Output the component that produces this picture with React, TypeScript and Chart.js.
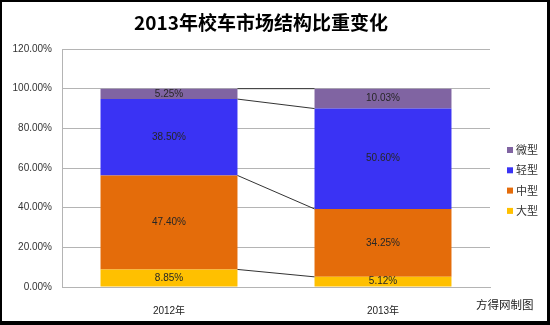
import { useEffect, useRef } from "react";
import { Chart, registerables } from "chart.js";

Chart.register(...registerables);

const titleText = "2013年校车市场结构比重变化";
const categories = ["2012年", "2013年"];
const seriesNames = ["大型", "中型", "轻型", "微型"];
const largeValues = [8.85, 5.12];
const mediumValues = [47.4, 34.25];
const lightValues = [38.5, 50.6];
const miniValues = [5.25, 10.03];
const seriesColors = ["#FFC000", "#E46C0A", "#3A33F4", "#8064A2"];
const yMin = 0;
const yMax = 120;
const yStep = 20;
const sourceNote = "方得网制图";

const FONT = "'Liberation Sans', 'Noto Sans CJK SC', sans-serif";
const CJK = "'Noto Sans CJK SC', 'Liberation Sans', sans-serif";

const framePlugin = {
  id: "frame",
  beforeDraw(chart: any) {
    const { ctx, width, height } = chart;
    ctx.save();
    ctx.fillStyle = "#000";
    ctx.fillRect(0, 0, width, height);
    ctx.fillStyle = "#fff";
    ctx.fillRect(2, 2, width - 5, height - 6);
    ctx.fillStyle = "#000";
    ctx.font = `bold 19px ${CJK}`;
    ctx.textAlign = "center";
    ctx.textBaseline = "middle";
    ctx.fillText(titleText, 261, 23);
    ctx.restore();
  },
};

const connectorPlugin = {
  id: "connectors",
  afterDatasetsDraw(chart: any) {
    const { ctx } = chart;
    ctx.save();
    ctx.strokeStyle = "#333";
    ctx.lineWidth = 1;
    chart.data.datasets.forEach((_: any, di: number) => {
      const meta = chart.getDatasetMeta(di);
      const a = meta.data[0];
      const b = meta.data[1];
      if (!a || !b) return;
      ctx.beginPath();
      ctx.moveTo(a.x + a.width / 2, a.y);
      ctx.lineTo(b.x - b.width / 2, b.y);
      ctx.stroke();
    });
    ctx.restore();
  },
};

const valueLabelPlugin = {
  id: "valueLabels",
  afterDatasetsDraw(chart: any) {
    const { ctx } = chart;
    ctx.save();
    ctx.font = `10px ${FONT}`;
    ctx.fillStyle = "#262626";
    ctx.textAlign = "center";
    ctx.textBaseline = "middle";
    chart.data.datasets.forEach((ds: any, di: number) => {
      const meta = chart.getDatasetMeta(di);
      meta.data.forEach((el: any, i: number) => {
        const v = ds.data[i];
        ctx.fillText(v.toFixed(2) + "%", el.x, (el.y + el.base) / 2);
      });
    });
    ctx.restore();
  },
};

const legendPlugin = {
  id: "sideLegend",
  afterDraw(chart: any) {
    const { ctx, chartArea } = chart;
    const ds = chart.data.datasets;
    ctx.save();
    ctx.font = `11px ${CJK}`;
    ctx.textBaseline = "middle";
    ctx.textAlign = "left";
    const x0 = chartArea.right + 17;
    const y0 = 150;
    for (let k = 0; k < ds.length; k++) {
      const d = ds[ds.length - 1 - k];
      const y = y0 + k * 20.3;
      ctx.fillStyle = d.backgroundColor;
      ctx.fillRect(x0, y - 3, 6, 6);
      ctx.fillStyle = "#333";
      ctx.fillText(d.label, x0 + 9, y);
    }
    ctx.font = `11.5px ${CJK}`;
    ctx.fillStyle = "#222";
    ctx.fillText(sourceNote, 476, 305);
    ctx.restore();
  },
};

export default function App() {
  const ref = useRef<HTMLCanvasElement | null>(null);
  useEffect(() => {
    document.body.style.margin = "0";
    if (!ref.current) return;
    const seriesData = [largeValues, mediumValues, lightValues, miniValues];
    const chart = new Chart(ref.current, {
      type: "bar",
      data: {
        labels: categories,
        datasets: seriesNames.map((name, i) => ({
          label: name,
          data: seriesData[i],
          backgroundColor: seriesColors[i],
          borderWidth: 0,
          categoryPercentage: 1,
          barPercentage: 0.64,
        })),
      },
      options: {
        responsive: false,
        animation: false,
        layout: { padding: { left: 0, right: 60, top: 49, bottom: 0 } },
        plugins: {
          legend: { display: false },
          tooltip: { enabled: false },
          title: { display: false },
        },
        scales: {
          x: {
            stacked: true,
            grid: { display: false },
            border: { display: true, color: "#b4b4b4" },
            ticks: { padding: 10, color: "#222", font: { size: 10, family: FONT } },
            afterFit: (s: any) => {
              s.height = 38;
            },
          },
          y: {
            stacked: true,
            min: yMin,
            max: yMax,
            grid: { color: "#b4b4b4", drawTicks: false },
            border: { display: true, color: "#b4b4b4" },
            ticks: {
              stepSize: yStep,
              padding: 10,
              color: "#333",
              font: { size: 10, family: FONT },
              callback: (v: any) => Number(v).toFixed(2) + "%",
            },
            afterFit: (s: any) => {
              s.width = 62;
            },
          },
        },
      },
      plugins: [framePlugin, connectorPlugin, valueLabelPlugin, legendPlugin],
    });
    return () => chart.destroy();
  }, []);
  return <canvas ref={ref} width={550} height={325} style={{ display: "block" }} />;
}
